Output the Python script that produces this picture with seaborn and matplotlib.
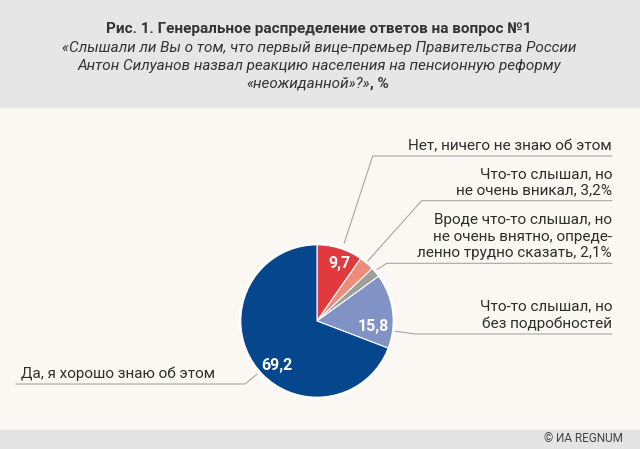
import numpy as np
import matplotlib
matplotlib.use("Agg")
import matplotlib.pyplot as plt
from matplotlib.patches import Rectangle, Circle
import seaborn as sns

# Data
answers = ["Нет, ничего не знаю об этом",
           "Что-то слышал, но\nне очень вникал, 3,2%",
           "Вроде что-то слышал, но\nне очень внятно, опреде-\nленно трудно сказать, 2,1%",
           "Что-то слышал, но\nбез подробностей",
           "Да, я хорошо знаю об этом"]
shares = [9.7, 3.2, 2.1, 15.8, 69.2]
value_labels = ["9,7", "", "", "15,8", "69,2"]
colors = ["#e03a3e", "#ef8c79", "#9e9e9a", "#8193c4", "#05468c"]

title = "Рис. 1. Генеральное распределение ответов на вопрос №1"
subtitle = ["«Слышали ли Вы о том, что первый вице-премьер Правительства России",
            "Антон Силуанов назвал реакцию населения на пенсионную реформу"]
subtitle_last = "«неожиданной»?»"
source = "© ИА REGNUM"

sns.set_theme(style="white")
plt.rcParams['font.family'] = ['Roboto', 'DejaVu Sans']

W, H = 640, 449
def py(y):
    # pixel row (from top) to data y
    return H - y

fig = plt.figure(figsize=(6.4, 4.49), dpi=100)
fig.patch.set_facecolor("#fbf8f3")
ax = fig.add_axes([0, 0, 1, 1])
ax.set_facecolor("#fbf8f3")

# header and footer bands
ax.add_patch(Rectangle((0, py(107)), W, 107, color="#e6e6e6", zorder=0))
ax.add_patch(Rectangle((0, 0), W, H - 430, color="#e4e4e4", zorder=0))

cx, cy, R = 317, py(321), 77
wedges, _ = ax.pie(shares, colors=colors, startangle=90, counterclock=False,
                   center=(cx, cy), radius=R, frame=True,
                   wedgeprops=dict(edgecolor="white", linewidth=0.8))
ax.add_patch(Circle((cx, cy), R, facecolor="none", edgecolor="white", lw=2, zorder=5))

# value labels inside wedges (angle shift, radius fraction)
val_pos = [(-3.5, 0.80), (0, 0), (0, 0), (-13, 0.74), (13.5, 0.77)]
for w, lab, (dth, rf) in zip(wedges, value_labels, val_pos):
    if not lab:
        continue
    th = np.deg2rad((w.theta1 + w.theta2) / 2 + dth)
    ax.text(cx + rf * R * np.cos(th), cy + rf * R * np.sin(th), lab,
            color="white", fontsize=11.5, fontweight="bold",
            ha="center", va="center", zorder=6)

# leader lines: anchor (angle shift, radius fraction), elbow, end
leaders = [((-1.8, 1.07), (372.7, 156), (612, 156)),
           ((0.5, 1.0), (421.7, 200.7), (612, 200.7)),
           ((1.0, 1.0), (386.7, 263.3), (612, 263.3)),
           ((-15, 1.0), (415, 334), (612, 334)),
           ((7, 1.04), (245, 384), (16, 384))]
line_col = "#a6a6a6"
for w, lab, ((dth, rf), elbow, end) in zip(wedges, answers, leaders):
    th = np.deg2rad((w.theta1 + w.theta2) / 2 + dth)
    x0, y0 = cx + rf * R * np.cos(th), cy + rf * R * np.sin(th)
    ax.plot([x0, elbow[0], end[0]], [y0, py(elbow[1]), py(end[1])],
            color=line_col, lw=0.8, zorder=1)
    if end[0] > elbow[0]:
        ax.text(end[0], py(end[1]) + 3, lab, ha="right", va="bottom",
                fontsize=11, color="#2e2e2e", linespacing=1.25)
    else:
        ax.text(end[0] + 5, py(end[1]) + 3, lab, ha="left", va="bottom",
                fontsize=11, color="#2e2e2e")

# titles
ax.text(319, py(29), title, ha="center", va="center", fontsize=11,
        fontweight="bold", color="#333333")
for i, line in enumerate(subtitle):
    ax.text(319, py(48 + 18 * i), line, ha="center", va="center", fontsize=11,
            style="italic", color="#333333")
t = ax.text(308, py(84), subtitle_last, ha="center", va="center", fontsize=11,
            style="italic", color="#333333")
ax.annotate(", %", xy=(1, 0), xycoords=t, ha="left", va="bottom",
            fontsize=11, fontweight="bold", color="#333333")

ax.text(623, py(439), source, ha="right", va="center", fontsize=8.5, color="#444444")

ax.set_xlim(0, W)
ax.set_ylim(0, H)
ax.axis("off")
fig.savefig("out.png", dpi=100, facecolor=fig.get_facecolor())
